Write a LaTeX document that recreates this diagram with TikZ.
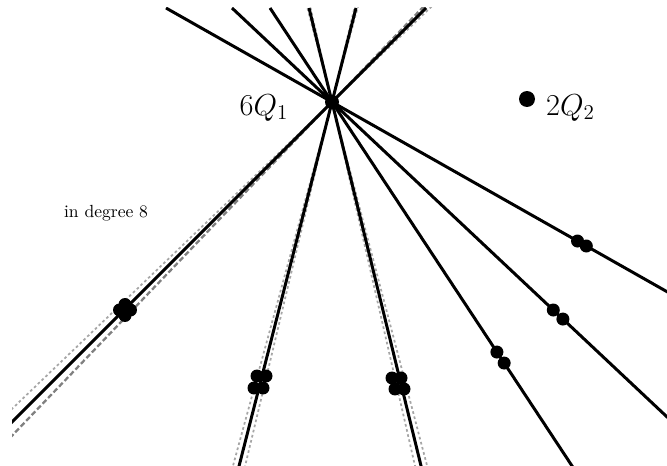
\documentclass[tikz,border=0pt]{standalone}
\usepackage{amsmath}
\usepackage{xcolor}
\usepackage{tikz}
\usetikzlibrary{calc}

\tikzset{
  curve/.style={line width=1.7pt},
  nearA/.style={gray!70, line width=1pt, dash pattern=on 1.5pt off 1.5pt},
  nearB/.style={gray, line width=1.3pt, dash pattern=on 3pt off 1.5pt},
}

\begin{document}
\begin{tikzpicture}[x=0.02cm,y=-0.02cm]

\useasboundingbox (0,0) rectangle (667,466);
\clip (12,8) rectangle (667,466);

% Define the two base points
\coordinate (Q1) at (332,102);
\coordinate (Q2) at (527,99);

% Points where the lines through Q1 leave the top
\coordinate (T1) at (166,8);
\coordinate (T2) at (232,8);
\coordinate (T3) at (270,8);
\coordinate (T4) at (309,8);
\coordinate (T5) at (356,8);
\coordinate (T6) at (426,8);

% Infinitely near lines (gray)
\draw[nearA] ($(Q1)!-6!-1.2:(T6)$) -- ($(Q1)!1.5!-1.2:(T6)$);
\draw[nearB] ($(Q1)!-6!1.2:(T6)$) -- ($(Q1)!1.5!1.2:(T6)$);
\draw[nearA] ($(Q1)!-6!-0.9:(T5)$) -- ($(Q1)!1.5!-0.9:(T5)$);
\draw[nearA] ($(Q1)!-6!0.9:(T5)$) -- ($(Q1)!1.5!0.9:(T5)$);
\draw[nearA] ($(Q1)!-6!-0.9:(T4)$) -- ($(Q1)!1.5!-0.9:(T4)$);
\draw[nearA] ($(Q1)!-6!0.9:(T4)$) -- ($(Q1)!1.5!0.9:(T4)$);

% The six lines through Q1
\draw[curve] (T1) -- ($(T1)!6!(Q1)$);
\draw[curve] (T2) -- ($(T2)!6!(Q1)$);
\draw[curve] (T3) -- ($(T3)!6!(Q1)$);
\draw[curve] (T4) -- ($(T4)!6!(Q1)$);
\draw[curve] (T5) -- ($(T5)!6!(Q1)$);
\draw[curve] (T6) -- ($(T6)!6!(Q1)$);

% Double points on the right lines
\coordinate (A1) at ($(Q1)!-1.479!(T1)$);
\coordinate (A2) at ($(Q1)!-1.532!(T1)$);
\coordinate (B1) at ($(Q1)!-2.213!(T2)$);
\coordinate (B2) at ($(Q1)!-2.309!(T2)$);
\coordinate (C1) at ($(Q1)!-2.660!(T3)$);
\coordinate (C2) at ($(Q1)!-2.777!(T3)$);

\fill (A1) circle (0.13cm);
\fill (A2) circle (0.13cm);
\fill (B1) circle (0.13cm);
\fill (B2) circle (0.13cm);
\fill (C1) circle (0.13cm);
\fill (C2) circle (0.13cm);

% Clusters of four points
\coordinate (D1) at (392,378);
\coordinate (D2) at (401,378);
\coordinate (D3) at (395,389);
\coordinate (D4) at (404,389);
\fill (D1) circle (0.13cm);
\fill (D2) circle (0.13cm);
\fill (D3) circle (0.13cm);
\fill (D4) circle (0.13cm);

\coordinate (E1) at (257,376);
\coordinate (E2) at (266,376);
\coordinate (E3) at (254,388);
\coordinate (E4) at (263,388);
\fill (E1) circle (0.13cm);
\fill (E2) circle (0.13cm);
\fill (E3) circle (0.13cm);
\fill (E4) circle (0.13cm);

\coordinate (F1) at (125,304.5);
\coordinate (F2) at (119.5,310);
\coordinate (F3) at (130.5,310);
\coordinate (F4) at (125,315.5);
\fill (F1) circle (0.13cm);
\fill (F2) circle (0.13cm);
\fill (F3) circle (0.13cm);
\fill (F4) circle (0.13cm);

% Base points and labels
\fill (Q1) circle (0.14cm);
\fill (Q2) circle (0.16cm);
\node (q1label) at (264,108) {\LARGE $6Q_1$};
\node[anchor=west] (q2label) at (540,108) {\LARGE $2Q_2$};
\node (degree) at (106,213) {in degree 8};

\end{tikzpicture}
\end{document}
